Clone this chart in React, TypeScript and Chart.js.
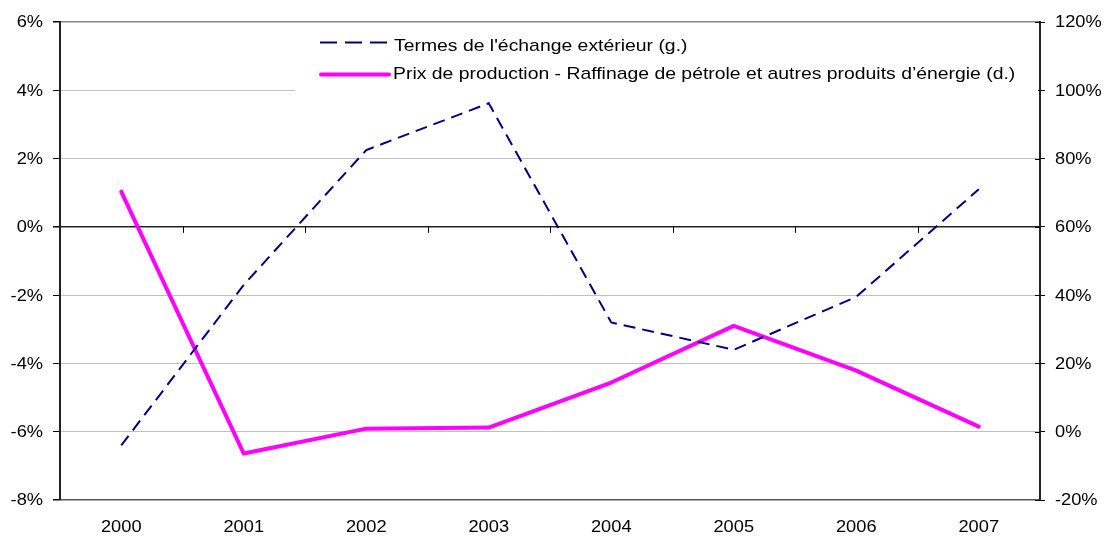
import React, { useEffect, useRef } from "react";
import { Chart, registerables } from "chart.js";

Chart.register(...registerables);

const categories = ["2000", "2001", "2002", "2003", "2004", "2005", "2006", "2007"];
const termesEchange = [-6.4, -1.7, 2.25, 3.62, -2.8, -3.6, -2.05, 1.1];
const prixRaffinage = [70.3, -6.4, 0.9, 1.2, 14.4, 31.0, 17.9, 1.5];
const labelTermes = "Termes de l'échange extérieur (g.)";
const labelPrix = "Prix de production - Raffinage de pétrole et autres produits d\u2019énergie (d.)";

const FONT = "'Liberation Sans', Arial, sans-serif";
const SX = 1.14;

function drawText(
  ctx: CanvasRenderingContext2D,
  text: string,
  x: number,
  y: number,
  size: number,
  align: "left" | "right" | "center",
  baseline: CanvasTextBaseline
) {
  ctx.save();
  ctx.font = `${size}px ${FONT}`;
  ctx.fillStyle = "#000";
  ctx.textAlign = align;
  ctx.textBaseline = baseline;
  ctx.translate(x, y);
  ctx.scale(SX, 1);
  ctx.fillText(text, 0, 0);
  ctx.restore();
}

const customPlugin = {
  id: "custom",
  beforeDatasetsDraw(chart: any) {
    const ctx = chart.ctx as CanvasRenderingContext2D;
    const area = chart.chartArea;
    const x = chart.scales.x;
    const y = chart.scales.y;
    const y1 = chart.scales.y1;
    ctx.save();
    // x-axis tick marks on the 0% line
    const y0 = y.getPixelForValue(0);
    ctx.strokeStyle = "#000";
    ctx.lineWidth = 1;
    const n = categories.length;
    const step = (area.right - area.left) / n;
    for (let k = 1; k < n; k++) {
      const px = Math.round(area.left + step * k) + 0.5;
      ctx.beginPath();
      ctx.moveTo(px, y0);
      ctx.lineTo(px, y0 + 6);
      ctx.stroke();
    }
    // inner tick stubs on right axis
    y1.ticks.forEach((t: any) => {
      const py = Math.round(y1.getPixelForValue(t.value)) + 0.5;
      ctx.beginPath();
      ctx.moveTo(area.right - 5, py);
      ctx.lineTo(area.right, py);
      ctx.stroke();
    });
    // tick labels
    y.ticks.forEach((t: any) => {
      drawText(ctx, `${t.value}%`, 43, y.getPixelForValue(t.value) + 1, 16, "right", "middle");
    });
    y1.ticks.forEach((t: any) => {
      drawText(ctx, `${t.value}%`, 1055, y1.getPixelForValue(t.value) + 1, 16, "left", "middle");
    });
    categories.forEach((c, i) => {
      drawText(ctx, c, x.getPixelForValue(i), 528, 16, "center", "middle");
    });
    // legend box
    ctx.fillStyle = "#fff";
    ctx.fillRect(295, 25, area.right - 297, 70);
    // dashed sample
    ctx.strokeStyle = "#000080";
    ctx.lineWidth = 2;
    ctx.setLineDash([17, 8]);
    ctx.beginPath();
    ctx.moveTo(320, 42.5);
    ctx.lineTo(390, 42.5);
    ctx.stroke();
    ctx.setLineDash([]);
    drawText(ctx, labelTermes, 394, 50.5, 17, "left", "alphabetic");
    // solid sample
    ctx.strokeStyle = "#FF00FF";
    ctx.lineWidth = 4;
    ctx.lineCap = "round";
    ctx.beginPath();
    ctx.moveTo(321, 74.5);
    ctx.lineTo(389, 74.5);
    ctx.stroke();
    drawText(ctx, labelPrix, 393, 78.5, 17, "left", "alphabetic");
    ctx.restore();
  },
};

export default function App() {
  const ref = useRef<HTMLCanvasElement>(null);
  useEffect(() => {
    if (!ref.current) return;
    const chart = new Chart(ref.current, {
      type: "line",
      data: {
        labels: categories,
        datasets: [
          {
            label: labelTermes,
            data: termesEchange,
            yAxisID: "y",
            borderColor: "#000080",
            borderWidth: 2,
            borderDash: [12, 7],
            pointRadius: 0,
            tension: 0,
            fill: false,
          },
          {
            label: labelPrix,
            data: prixRaffinage,
            yAxisID: "y1",
            borderColor: "#FF00FF",
            borderWidth: 4,
            pointRadius: 0,
            tension: 0,
            fill: false,
            borderCapStyle: "round",
            borderJoinStyle: "round",
          },
        ],
      },
      options: {
        animation: false,
        responsive: false,
        layout: { padding: { top: 22, left: 0, right: 0, bottom: 0 } },
        plugins: { legend: { display: false }, tooltip: { enabled: false } },
        scales: {
          x: {
            type: "category",
            offset: true,
            grid: { display: false },
            border: { display: false },
            ticks: { display: false },
            afterFit: (s: any) => {
              s.height = 36;
            },
          },
          y: {
            position: "left",
            min: -8,
            max: 6,
            ticks: {
              stepSize: 2,
              display: false,
            },
            grid: {
              color: (c: any) => {
                const v = c.tick ? c.tick.value : null;
                if (v === 0) return "#222";
                if (v === -8) return "#555";
                if (v === 6) return "#888";
                return "#c0c0c0";
              },
              lineWidth: (c: any) => {
                const v = c.tick ? c.tick.value : null;
                if (v === 0 || v === -8 || v === 6) return 1.5;
                return 1;
              },
              drawTicks: true,
              tickLength: 7,
              tickColor: "#000",
            },
            border: { display: true, color: "#222", width: 2 },
            afterFit: (s: any) => {
              s.width = 60;
            },
          },
          y1: {
            position: "right",
            min: -20,
            max: 120,
            ticks: {
              stepSize: 20,
              display: false,
            },
            grid: { drawOnChartArea: false, drawTicks: true, tickLength: 5, tickColor: "#000" },
            border: { display: true, color: "#222", width: 2 },
            afterFit: (s: any) => {
              s.width = 67;
            },
          },
        },
      },
      plugins: [customPlugin],
    } as any);
    return () => chart.destroy();
  }, []);
  return (
    <div style={{ position: "fixed", left: 0, top: 0, width: 1107, height: 536, background: "#fff" }}>
      <canvas ref={ref} width={1107} height={536} style={{ width: 1107, height: 536, display: "block" }} />
    </div>
  );
}
